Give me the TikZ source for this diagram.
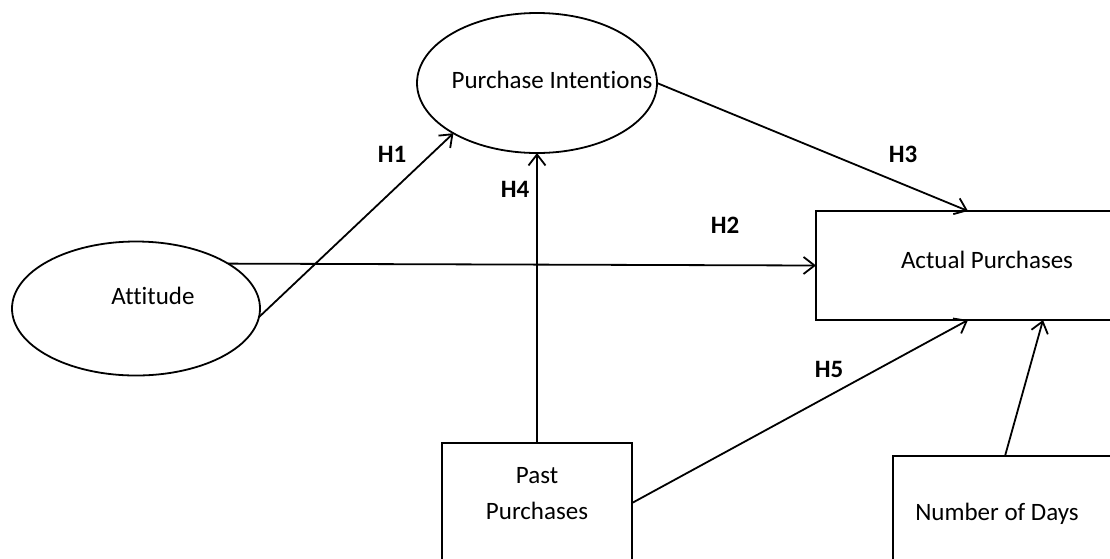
\documentclass[tikz,border=0pt]{standalone}
\usepackage{fontspec}
\setmainfont{Carlito}[Ligatures={NoCommon,NoRare,NoContextual}]
\usetikzlibrary{shapes.geometric,arrows.meta,calc}
\begin{document}
\begin{tikzpicture}[x=1pt,y=-1pt,
  every node/.style={inner sep=0pt, outer sep=0pt},
  ell/.style={ellipse, draw, line width=1.8pt},
  boxed/.style={rectangle, draw, line width=1.8pt},
  txt/.style={font=\fontsize{25}{36}\selectfont, anchor=base},
  hyp/.style={font=\fontsize{25}{30}\selectfont\bfseries, anchor=base},
  conn/.style={line width=1.8pt, -{Straight Barb[length=11pt,width=17pt]}}]
\useasboundingbox (0,0) rectangle (1110,558);
\clip (0,0) rectangle (1110,558);
% shapes
\node[ell, minimum width=240pt, minimum height=140pt] (pi) at (537,83) {};
\node[ell, minimum width=248pt, minimum height=134pt] (att) at (136,308.5) {};
\node[boxed, minimum width=344pt, minimum height=109pt] (ap) at (988,265.5) {};
\node[boxed, minimum width=190pt, minimum height=157pt] (pp) at (537,521.5) {};
\node[boxed, minimum width=237pt, minimum height=144pt] (nd) at (1011.5,528) {};
% texts
\node[txt] (pit) at (552,88) {Purchase Intentions};
\node[txt] (attt) at (153,304) {Attitude};
\node[txt] (apt) at (987,268) {Actual Purchases};
\node[txt, align=center, anchor=center] (ppt) at (537,494) {Past\\Purchases};
\node[txt] (ndt) at (997,520) {Number of Days};
% labels
\node[hyp] (h1) at (392,162) {H1};
\node[hyp] (h2) at (725,233) {H2};
\node[hyp] (h3) at (903,162) {H3};
\node[hyp] (h4) at (515,197) {H4};
\node[hyp] (h5) at (829,377) {H5};
% connectors
\draw[conn] (att.-4) -- (pi.211.5);
\draw[conn] (att.26) -- (ap.west);
\draw[conn] (pi.east) -- ([xshift=152pt]ap.north west);
\draw[conn] (pp.north) -- (pi.south);
\draw[conn] ([yshift=-60pt]pp.north east) -- ([xshift=152pt]ap.south west);
\draw[conn] ([xshift=112pt]nd.north west) -- ([xshift=227pt]ap.south west);
\end{tikzpicture}
\end{document}
